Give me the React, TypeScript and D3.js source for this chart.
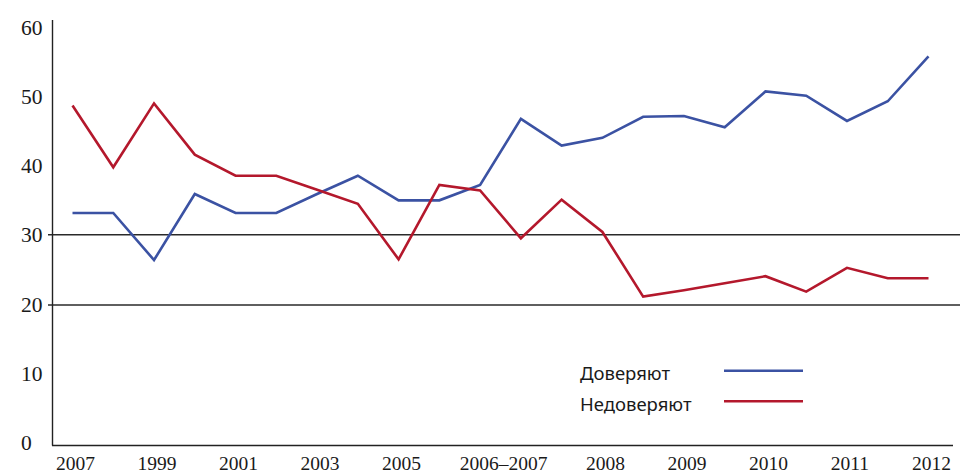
import React from "react";
import * as d3 from "d3";

const trustValues = [33.1, 33.1, 26.4, 35.8, 33.1, 33.1, 35.8, 38.4, 34.9, 34.9, 37.1, 46.5, 42.7, 43.8, 46.8, 46.9, 45.3, 50.4, 49.8, 46.2, 49.0, 55.4];
const distrustValues = [48.4, 39.6, 48.7, 41.4, 38.4, 38.4, 36.4, 34.4, 26.5, 37.1, 36.3, 29.5, 35.0, 30.4, 21.2, 22.1, 23.1, 24.1, 21.9, 25.3, 23.8, 23.8];
const xTickLabels = ["2007", "1999", "2001", "2003", "2005", "2006–2007", "2008", "2009", "2010", "2011", "2012"];
const xTickIndex = [0, 2, 4, 6, 8, 10.5, 13, 15, 17, 19, 21];
const yTicks = [0, 10, 20, 30, 40, 50, 60];
const gridValues = [20, 30];
const seriesNames = ["Доверяют", "Недоверяют"];
const seriesColors = ["#3b52a3", "#b4182c"];

export default function App() {
  const W = 960, H = 475;
  const x = d3.scaleLinear().domain([0, trustValues.length - 1]).range([72.5, 928.5]);
  const y = d3.scaleLinear().domain([0, 60]).range([445.5, 24]);
  const line = d3.line<number>().x((_, i) => x(i)).y((d) => y(d));
  const series = [trustValues, distrustValues];
  const serif = "'Liberation Serif', serif";
  return (
    <svg width={W} height={H} style={{ position: "absolute", left: 0, top: 0, background: "#fff" }}>
      {gridValues.map((g) => (
        <line key={g} x1={48} x2={W} y1={y(g)} y2={y(g)} stroke="#2a2a2a" strokeWidth={1.3} />
      ))}
      <line x1={52.5} x2={52.5} y1={20} y2={445.5} stroke="#222" strokeWidth={1.4} />
      <line x1={52} x2={953} y1={445.5} y2={445.5} stroke="#222" strokeWidth={1.4} />
      {yTicks.map((t) => (
        <text key={t} x={21} y={y(t)} dy={4.5 + t * 0.1} fontFamily={serif} fontSize={21.5} fill="#1a1a1a">
          {t}
        </text>
      ))}
      {xTickLabels.map((l, i) => (
        <text key={l} x={x(xTickIndex[i]) + 3} y={470} textAnchor="middle" fontFamily={serif} fontSize={19.5} fill="#1a1a1a">
          {l}
        </text>
      ))}
      {series.map((s, i) => (
        <path key={i} d={line(s) || ""} fill="none" stroke={seriesColors[i]} strokeWidth={2.6} strokeLinejoin="miter" />
      ))}
      {seriesNames.map((n, i) => (
        <g key={n}>
          <text x={580} y={379.5 + i * 31} fontFamily="'Noto Sans', sans-serif" fontSize={18.5} fill="#1a1a1a">
            {n}
          </text>
          <line x1={724} x2={803} y1={370.7 + i * 30.5} y2={370.7 + i * 30.5} stroke={seriesColors[i]} strokeWidth={2.6} />
        </g>
      ))}
    </svg>
  );
}
